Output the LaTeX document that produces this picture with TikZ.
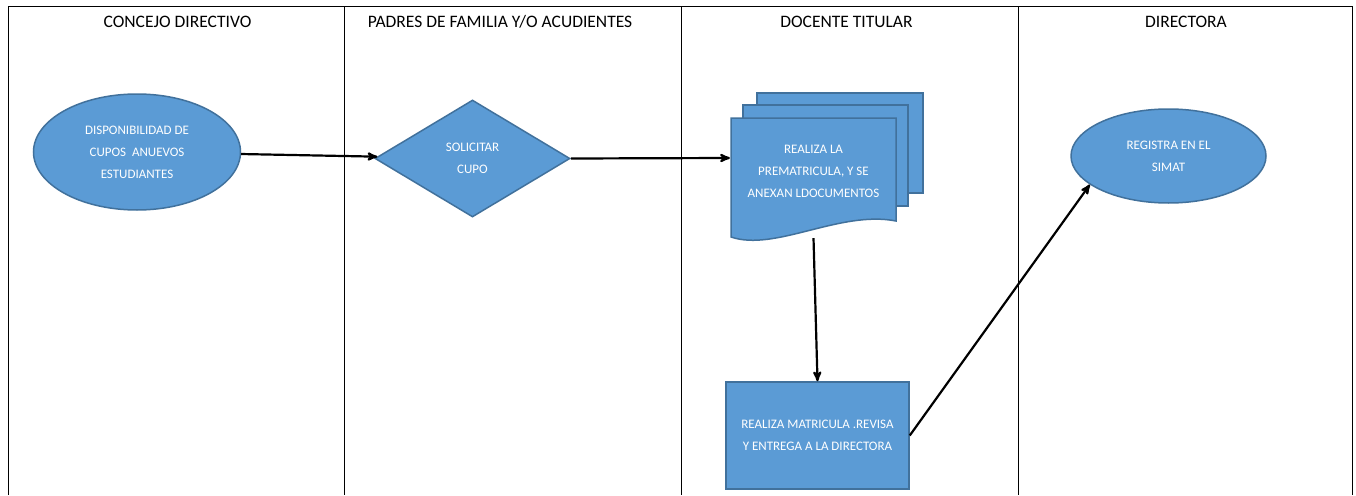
\documentclass[tikz,border=0pt]{standalone}
\usepackage{fontspec}
\setmainfont{Carlito}
\usepackage{tikz}
\usetikzlibrary{arrows,shapes.geometric,positioning}
\definecolor{boxblue}{HTML}{5B9BD5}
\definecolor{boxline}{HTML}{41719C}

\begin{document}
\begin{tikzpicture}[->, >=stealth', x=1pt, y=-1pt, line width=2.2pt]
	\tikzstyle{blue shape}=[fill=boxblue,draw=boxline,line width=1.5pt,text=white,align=center,inner sep=0pt,font=\fontsize{13}{22}\selectfont]
	\tikzstyle{lane title}=[text=black,font=\fontsize{17.5}{21}\selectfont]
	\tikzstyle{lane}=[-,line width=1pt,draw=black]
	\useasboundingbox (0,0) rectangle (1356,495);

	% lanes
	\draw[lane] (8,495) -- (8,7) -- (1352,7) -- (1352,495);
	\foreach \x in {344,681,1018}
		\draw[lane] (\x,7) -- (\x,495);
	\node[lane title] at (177.5,22) (t1) {CONCEJO DIRECTIVO};
	\node[lane title] at (500,22)   (t2) {PADRES DE FAMILIA Y/O ACUDIENTES};
	\node[lane title] at (846.5,22) (t3) {DOCENTE TITULAR};
	\node[lane title] at (1186,22)  (t4) {DIRECTORA};

	% shapes
	\node[blue shape,ellipse,minimum width=207pt,minimum height=116pt] at (137,152) (disp)
		{DISPONIBILIDAD DE\\CUPOS\ \ ANUEVOS\\ESTUDIANTES};
	\node[blue shape,diamond,minimum width=195pt,minimum height=117pt] at (472.5,158.5) (sol)
		{SOLICITAR\\CUPO};
	\draw[blue shape,-] (757,93) rectangle (923,193);
	\draw[blue shape,-] (743,105) rectangle (908,206);
	\draw[blue shape,-] (731,118) -- (896,118) -- (896,221)
		.. controls (840,210) and (775,252) .. (731,237) -- cycle;
	\node[text=white,align=center,inner sep=0pt,font=\fontsize{13}{22}\selectfont,
		minimum width=165pt,minimum height=132pt] at (813.5,171) (prem)
		{REALIZA LA\\PREMATRICULA, Y SE\\ANEXAN LDOCUMENTOS};
	\node[blue shape,minimum width=183pt,minimum height=107pt] at (817.5,435.5) (mat)
		{REALIZA MATRICULA .REVISA\\Y ENTREGA A LA DIRECTORA};
	\node[blue shape,ellipse,minimum width=195pt,minimum height=94pt] at (1168.5,156) (reg)
		{REGISTRA EN EL\\SIMAT};

	\path
	(disp) edge (sol)
	(sol.east) edge ([yshift=13pt]prem.west)
	(prem.south) edge (mat.north)
	(mat.east) edge (reg.200);

\end{tikzpicture}
\end{document}
